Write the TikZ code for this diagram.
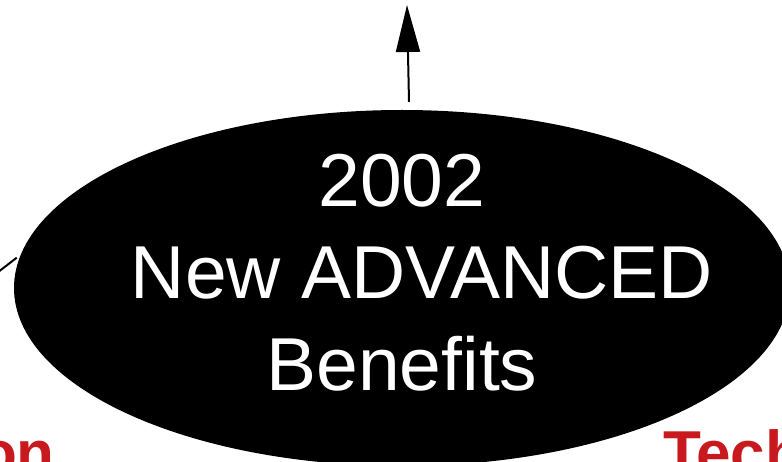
\documentclass[tikz,border=0pt]{standalone}
\usepackage{fontspec}
\setmainfont{Liberation Sans}
\usetikzlibrary{shapes,arrows.meta,positioning}
\definecolor{topicred}{RGB}{200,25,30}
\tikzstyle{hub} = [ellipse, fill=black, draw=none, inner sep=0pt, minimum width=776pt, minimum height=356pt]
\tikzstyle{hubtext} = [text=white, align=center, font=\fontsize{75}{92}\selectfont]
\tikzstyle{topic} = [text=topicred, inner sep=0pt, font=\fontsize{62}{70}\selectfont\bfseries]
\tikzstyle{link} = [line width=2pt]

\begin{document}
\begin{tikzpicture}[x=1pt,y=1pt]
    \useasboundingbox (0,0) rectangle (782,461);
    \clip (0,0) rectangle (782,461);

    \node [hub] (hub) at (402,173) {};
    \node [hubtext] (year) at ([yshift=15pt]hub.center) {2002\\\hspace*{40pt}New ADVANCED\\Benefits};

    \node [topic, anchor=base east] (left) at (55,-13) {on};
    \node [topic, anchor=base west] (right) at (663,-13) {Tech};

    \coordinate (up) at (407,456);
    \coordinate (src) at (-20,175);

     \draw[link,-{Triangle[length=47pt,width=24pt]}]([xshift=7pt,yshift=8pt]hub.north) -- (up);
     \draw[link,shorten >=5pt](src) -- (hub.175);
\end{tikzpicture}
\end{document}
